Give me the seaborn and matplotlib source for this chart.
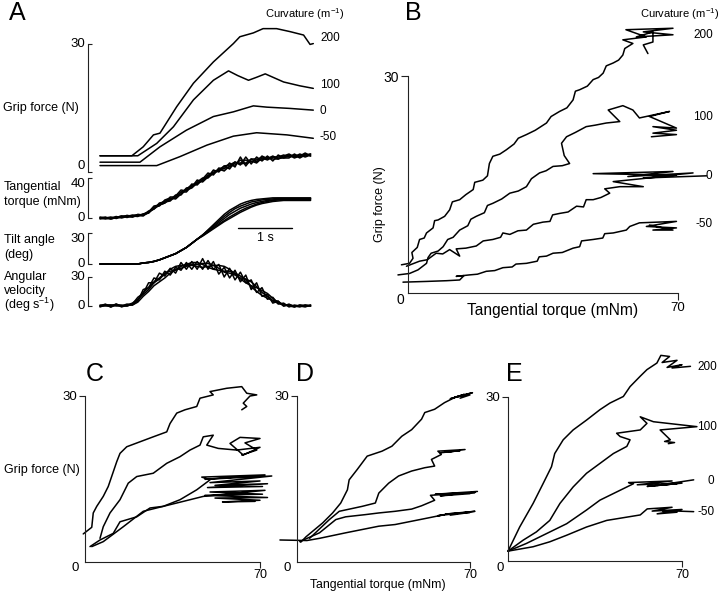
import numpy as np
import pandas as pd
import matplotlib
matplotlib.use('Agg')
import matplotlib.pyplot as plt
import seaborn as sns

# ---------------- data ----------------
curvatures = [200, 100, 0, -50]

# Panel A: grip force (N) vs time (s)
gripA_t = {
    200: [0, 0.59, 0.80, 0.99, 1.11, 1.42, 1.73, 2.10, 2.47, 2.59, 2.84, 3.02, 3.27, 3.52, 3.77, 3.89, 3.95],
    100: [0, 0.70, 1.05, 1.36, 1.73, 2.10, 2.38, 2.55, 2.75, 2.90, 3.06, 3.40, 3.70, 3.95],
    0:   [0, 0.74, 1.11, 1.60, 2.10, 2.47, 2.84, 3.09, 3.52, 3.95],
    -50: [0, 1.05, 1.48, 1.98, 2.47, 2.90, 3.46, 3.95],
}
gripA_v = {
    200: [3.8, 3.8, 5.9, 8.7, 9.1, 15.3, 20.8, 25.8, 30.1, 31.7, 32.6, 33.6, 33.6, 32.9, 32.1, 29.9, 30.1],
    100: [3.8, 3.8, 6.7, 10.6, 16.9, 21.5, 23.7, 22.6, 21.5, 22.2, 23.0, 21.1, 20.2, 19.6],
    0:   [2.3, 2.3, 5.9, 9.8, 13.0, 14.1, 15.5, 15.2, 14.9, 14.5],
    -50: [1.5, 1.5, 3.6, 6.3, 8.4, 9.2, 8.7, 7.9],
}

# Panel A: common time base (s) for the five trials of torque / tilt / angular velocity
trial_t = [0.0, 0.1, 0.2, 0.3, 0.4, 0.5, 0.6, 0.7, 0.8, 0.9, 1.0, 1.1, 1.2, 1.3, 1.4, 1.5, 1.6, 1.7, 1.8, 1.9,
           2.0, 2.1, 2.2, 2.3, 2.4, 2.5, 2.6, 2.7, 2.8, 2.9, 3.0, 3.1, 3.2, 3.3, 3.4, 3.5, 3.6, 3.7, 3.8, 3.9]

torque_trials = [
    [0, 1, -1, 0.5, 2, 1.5, 1, 3.5, 3, 7, 9, 15, 16, 17, 22, 28, 27, 34, 33, 39, 45, 43, 50, 49, 55, 51, 61, 52, 59, 56, 62, 59, 62, 59, 62, 64, 61, 64, 62, 64],
    [1, 0, 1, -0.5, 1, 2.5, 2, 1.5, 4, 5, 11, 12, 18, 20, 19, 24, 30, 31, 38, 36, 41, 48, 46, 52, 49, 56, 53, 61, 54, 61, 57, 62, 57, 63, 60, 60, 64, 61, 64, 62],
    [0, -1, 0, 1.5, 0, 1.5, 3, 2.5, 2, 6, 12, 13, 15, 21, 21, 26, 26, 32, 36, 40, 40, 45, 49, 47, 52, 53, 58, 54, 57, 55, 60, 58, 61, 61, 63, 61, 62, 63, 61, 63],
    [-1, 0, 0, 0.5, 2, 0.5, 2, 3.5, 3, 5, 10, 14, 17, 18, 23, 23, 29, 33, 34, 38, 43, 44, 48, 52, 53, 56, 54, 55, 59, 59, 58, 61, 59, 59, 61, 63, 60, 62, 65, 62],
    [0, 0, -1, 0.5, 1, 2.5, 1, 2.5, 4, 6, 9, 13, 15, 19, 20, 26, 28, 30, 35, 37, 42, 46, 47, 50, 51, 55, 55, 58, 56, 58, 61, 60, 61, 60, 60, 62, 63, 60, 63, 64],
]

tilt_trials = [
    [0, 0, 0, 0, 0, 0, 0, 0, 1, 1.5, 2.5, 4, 6, 8, 10, 13, 16, 20, 24, 28, 33, 38, 43, 48, 52, 55, 58, 60, 61.5, 62.5, 63, 63.5, 64, 64, 64, 64, 64, 64, 64, 64],
    [0, 0, 0, 0, 0, 0, 0, 0, 1, 1.5, 2.5, 4, 6, 8, 10, 13, 16, 20, 24, 28, 32, 36, 40, 44, 48, 51, 54, 56, 58, 59.5, 60.5, 61.5, 62, 62.5, 63, 63, 63, 63, 63, 63],
    [0, 0, 0, 0, 0, 0, 0, 0, 1, 1.5, 2.5, 4, 6, 8, 10, 13, 16, 20, 24, 27.5, 31, 35, 38.5, 42, 45.5, 48.5, 51.5, 54, 56, 58, 59.5, 60.5, 61.5, 62, 62.5, 62.5, 62.5, 62.5, 62.5, 62.5],
    [0, 0, 0, 0, 0, 0, 0, 0, 1, 1.5, 2.5, 4, 6, 8, 10, 13, 16, 20, 24, 27, 30.5, 34, 37.5, 41, 44, 47, 50, 52.5, 55, 57, 58.5, 59.5, 60.5, 61, 61.5, 61.5, 61.5, 61.5, 61.5, 61.5],
    [0, 0, 0, 0, 0, 0, 0, 0, 1, 1.5, 2.5, 4, 6, 8, 10, 13, 16, 20, 24, 28, 32.5, 37, 41.5, 46, 50, 53.5, 56, 58, 60, 61, 62, 62.5, 63, 63.5, 63.5, 63.5, 63.5, 63.5, 63.5, 63.5],
]

angvel_trials = [
    [0, 2, -1, 1, 1, 0, 2, 9, 13, 24, 24, 34, 31, 39, 34, 45, 38, 46, 38, 49, 38, 46, 33, 40, 29, 37, 25, 32, 17, 24, 10, 12, 3, 5, 0, 2, -1, 1, 0, 1],
    [1, 1, 1, 0, 0, 2, 1, 5, 17, 19, 29, 27, 36, 32, 40, 37, 45, 38, 46, 38, 47, 38, 43, 30, 39, 27, 35, 24, 27, 14, 19, 7, 9, 2, 3, -1, 1, 0, 1, 0],
    [0, 0, 0, 2, -1, 1, 3, 7, 12, 17, 24, 28, 33, 38, 41, 42, 42, 42, 41, 40, 41, 42, 42, 41, 38, 33, 28, 24, 21, 19, 16, 13, 8, 3, 2, 0, -1, 1, 0, 0],
    [-1, 1, 1, 1, 0, 0, 2, 6, 14, 19, 25, 29, 34, 36, 37, 41, 43, 45, 45, 43, 40, 38, 37, 36, 36, 34, 31, 27, 20, 15, 11, 8, 6, 5, 0, 1, 0, -1, 1, 0],
    [0, 1, -1, 2, 0, 1, 1, 4, 10, 15, 21, 25, 29, 34, 38, 39, 41, 43, 43, 44, 44, 42, 39, 35, 34, 32, 29, 28, 25, 20, 14, 10, 5, 3, 1, 1, 0, 0, -1, 1],
]

# Panels B-E: grip force (N) vs tangential torque (mNm)
B_x = {
    200: [-1.7, 0.4, 1.3, 1.0, 2.4, 3.0, 4.2, 4.8, 6.5, 6.9, 7.8, 9.5, 10.8, 11.5, 13.4, 15.0, 16.9, 17.3, 19.4, 20.6,
          21.1, 22.0, 23.8, 25.5, 27.5, 28.6, 30.7, 33.0, 35.9, 37.1, 39.3, 41.2, 42.8, 43.4, 44.5, 46.5, 48.0, 49.4,
          50.6, 51.4, 53.2, 54.6, 55.7, 56.2, 58.3,
          55.7, 61.8, 56.5, 68.7, 61.0, 68.7, 59.2, 63.5, 63.5, 61.0, 62.2],
    100: [-2.6, 0.4, 2.6, 4.8, 5.2, 6.0, 7.8, 9.1, 10.3, 11.7, 13.4, 15.5, 16.3, 17.7, 19.8, 20.6, 22.0, 24.3, 26.4,
          28.6, 30.7, 32.0, 34.1, 35.8, 37.6, 40.0, 41.9, 40.5, 39.8, 41.1, 43.4, 46.2, 48.5, 51.4, 54.9, 51.9, 55.7, 58.3,
          60.0, 67.8, 62.6, 69.6, 63.5, 69.6, 63.5, 69.6, 63.1],
    0:   [-0.4, 3.0, 5.0, 7.3, 9.0, 10.8, 13.4, 12.5, 15.0, 17.7, 19.5, 22.0, 24.0, 24.6, 26.4, 28.5, 30.7, 32.5, 35.0,
          36.8, 37.5, 39.3, 41.5, 43.7, 45.5, 46.2, 48.0, 50.0, 52.3, 51.0, 54.9, 61.0,
          53.2, 69.6, 48.0, 68.7, 57.0, 73.9, 61.0, 77.4],
    -50: [-1.3, 4.8, 10.0, 13.4, 14.5, 12.5, 15.9, 18.0, 20.3, 22.5, 24.6, 27.0, 28.0, 30.7, 33.5, 34.0, 35.9, 37.6,
          40.0, 42.8, 44.5, 45.0, 48.0, 50.5, 51.0, 53.2, 56.6, 57.5,
          60.0, 69.6, 61.8, 69.6, 63.5, 68.7, 62.6],
}
B_y = {
    200: [3.9, 4.1, 4.8, 5.6, 6.3, 7.4, 7.6, 8.3, 9.0, 10.0, 10.1, 10.6, 11.5, 12.6, 12.9, 13.6, 14.3, 15.3, 15.6, 16.2,
          17.9, 18.9, 19.2, 19.8, 20.6, 21.4, 21.9, 22.5, 23.5, 24.4, 25.1, 25.6, 26.7, 27.9, 28.1, 28.6, 29.5, 29.8,
          30.4, 31.4, 31.8, 32.2, 32.9, 33.8, 34.5,
          35.0, 35.4, 36.4, 36.6, 36.1, 35.7, 35.4, 36.1, 34.7, 34.3, 33.1],
    100: [2.5, 2.7, 3.2, 4.1, 4.9, 5.5, 5.8, 6.4, 7.4, 7.7, 8.7, 9.3, 10.2, 10.6, 11.1, 12.1, 12.4, 13.0, 13.8,
          14.1, 14.7, 15.8, 16.6, 16.9, 17.5, 17.6, 17.9, 19.0, 20.7, 21.6, 22.2, 23.0, 23.2, 23.5, 23.7, 25.3, 25.9, 25.3,
          24.2, 25.1, 24.4, 22.8, 23.0, 22.5, 22.1, 21.9, 21.6],
    0:   [3.7, 4.4, 4.6, 5.5, 5.4, 6.0, 5.1, 6.1, 6.2, 6.5, 7.2, 7.4, 7.7, 8.3, 8.1, 8.6, 8.7, 9.5, 9.8,
          9.9, 10.8, 11.0, 11.2, 12.0, 11.9, 12.9, 12.9, 13.2, 13.8, 14.4, 14.7, 14.7,
          15.4, 16.3, 16.5, 16.8, 16.1, 16.6, 15.9, 16.2],
    -50: [1.5, 1.6, 1.7, 1.8, 2.4, 2.3, 2.5, 2.6, 3.0, 3.1, 3.5, 3.6, 4.0, 4.1, 4.4, 5.0, 5.1, 5.5,
          5.6, 6.2, 6.4, 7.2, 7.4, 7.6, 8.2, 8.3, 8.7, 9.2,
          9.7, 9.9, 9.2, 9.0, 8.7, 8.7, 9.4],
}

C_x = {
    200: [-0.7, 2.7, 3.3, 4.7, 7.3, 9.3, 12.7, 14.0, 16.7, 22.0, 27.3, 32.7, 34.0, 36.7, 40.0, 44.7, 46.0, 51.3,
          50.0, 56.7, 62.7, 64.7, 68.7, 66.0, 63.3, 64.7, 62.7],
    100: [6.0, 7.3, 10.0, 14.0, 17.3, 20.7, 27.3, 32.7, 38.0, 42.0, 46.0, 47.3, 51.3,
          48.7, 53.3, 60.7, 70.0, 63.3, 58.0, 62.0, 70.0, 64.0, 68.7, 62.7],
    0:   [2.0, 6.0, 11.3, 14.0, 20.7, 26.0, 31.3, 38.0, 44.7, 50.0,
          46.7, 72.0, 48.0, 74.7, 50.0, 70.0, 52.0, 73.0, 49.0, 71.0],
    -50: [2.7, 7.3, 15.3, 23.3, 34.0, 42.0, 47.3,
          72.0, 50.0, 71.0, 48.0, 73.0, 52.0, 70.0, 55.0, 68.0],
}
C_y = {
    200: [5.0, 6.2, 8.8, 10.0, 11.8, 13.6, 18.1, 19.6, 20.8, 21.7, 22.6, 23.5, 25.0, 26.9, 27.5, 28.1, 29.6, 30.2,
          30.8, 31.4, 31.7, 30.5, 30.2, 30.0, 28.7, 28.1, 27.5],
    100: [4.2, 6.3, 8.8, 11.2, 14.2, 15.4, 16.0, 17.8, 19.0, 20.2, 21.1, 22.6, 22.9,
          21.1, 20.5, 20.2, 20.7, 19.3, 21.4, 22.5, 22.3, 21.5, 20.2, 19.3],
    0:   [2.7, 3.9, 5.1, 7.2, 8.1, 9.7, 10.0, 11.2, 13.0, 14.8,
          15.3, 15.7, 14.9, 15.5, 14.3, 14.6, 13.8, 14.1, 13.4, 13.6],
    -50: [2.7, 3.6, 6.3, 9.1, 10.3, 11.2, 11.8,
          12.9, 12.6, 12.2, 12.0, 11.6, 11.5, 11.1, 10.8, 10.9],
}

D_x = {
    200: [1.5, 3.7, 10.4, 14.4, 17.7, 20.4, 21.1, 24.4, 28.4, 34.4, 38.4, 42.4, 46.4, 50.4, 51.7, 55.7, 59.7, 63.7, 67.7,
          62.0, 71.0, 64.0, 70.0, 66.0],
    100: [5.1, 13.1, 17.1, 26.4, 31.7, 33.1, 37.1, 41.1, 46.4, 51.7, 55.7, 54.4, 58.4,
          57.0, 68.0, 60.0, 66.0, 58.0],
    0:   [1.1, 9.1, 15.7, 19.7, 27.7, 33.1, 39.7, 46.4, 50.4, 55.7,
          54.0, 72.0, 56.0, 73.0, 58.0, 70.0],
    -50: [-6.9, 4.0, 9.1, 19.7, 26.4, 33.1, 39.7, 46.4, 53.1, 59.7,
          57.0, 72.0, 60.0, 70.0, 62.0],
}
D_y = {
    200: [3.5, 4.5, 7.0, 8.8, 10.6, 13.0, 14.8, 16.7, 19.1, 20.0, 20.9, 22.7, 23.9, 25.8, 27.0, 27.6, 28.8, 29.7, 30.3,
          29.5, 30.6, 29.8, 30.2, 29.6],
    100: [4.2, 7.6, 9.1, 10.0, 10.6, 12.4, 14.2, 15.5, 16.4, 17.0, 17.3, 18.5, 19.4,
          20.0, 20.3, 19.8, 20.1, 19.7],
    0:   [3.6, 5.2, 7.6, 8.1, 8.5, 8.8, 9.1, 9.5, 10.1, 11.1,
          12.0, 12.5, 12.2, 12.7, 11.9, 12.3],
    -50: [3.9, 3.8, 4.2, 5.2, 5.8, 6.4, 6.7, 7.3, 7.9, 8.5,
          8.3, 9.1, 8.6, 8.9, 8.4],
}

E_x = {
    200: [0, 4.7, 10.1, 14.1, 17.5, 18.8, 22.2, 26.2, 31.6, 37.0, 41.0, 46.4, 49.1, 53.2, 55.9, 59.9,
          61.5, 65.0, 62.0, 68.0, 64.0, 70.0, 66.0, 73.4],
    100: [0, 6.1, 11.4, 16.8, 20.9, 26.2, 31.6, 37.0, 42.4, 47.8, 49.1, 45.1, 43.7, 53.2, 55.9, 53.2, 58.5, 76.0,
          61.2, 65.3, 63.0, 67.0, 64.5],
    0:   [0, 7.4, 12.8, 23.6, 31.6, 37.0, 45.1, 50.5,
          48.5, 66.0, 52.0, 70.0, 56.0, 68.0, 60.0, 74.7],
    -50: [0, 10.1, 16.8, 23.6, 31.6, 39.7, 47.8, 53.2,
          56.0, 66.0, 58.0, 70.0, 60.0, 68.0, 62.0, 74.7],
}
E_y = {
    200: [1.8, 6.2, 10.5, 14.1, 17.2, 19.6, 22.1, 23.9, 25.7, 27.6, 28.8, 30.0, 31.8, 33.7, 34.9, 36.1,
          37.5, 37.3, 36.2, 36.6, 35.3, 35.8, 35.2, 35.5],
    100: [1.8, 3.8, 5.3, 7.4, 10.5, 13.5, 16.0, 17.8, 19.6, 20.9, 22.1, 22.7, 23.3, 23.9, 25.1, 26.3, 25.4, 24.5,
          23.9, 22.1, 21.8, 21.6, 21.4],
    0:   [1.8, 3.2, 4.4, 6.8, 9.3, 11.1, 12.9, 14.1,
          14.3, 14.6, 13.9, 14.2, 13.6, 14.1, 13.8, 14.8],
    -50: [1.8, 2.6, 3.5, 4.7, 6.2, 7.4, 8.0, 8.4,
          9.5, 9.8, 9.1, 9.4, 8.6, 8.9, 9.2, 9.0],
}

# ---------------- style ----------------
sns.set_theme(style='white')
FONT = ['Liberation Sans', 'DejaVu Sans']
plt.rcParams['font.family'] = FONT
plt.rcParams['mathtext.default'] = 'regular'

W, H = 720, 597
fig = plt.figure(figsize=(7.2, 5.97), dpi=100)
fig.patch.set_facecolor('white')

LW = 1.1
SPINE = '#222222'


def add_ax(x0, ytop, x1, ybot):
    ax = fig.add_axes([x0 / W, 1 - ybot / H, (x1 - x0) / W, (ybot - ytop) / H])
    ax.patch.set_alpha(0)
    return ax


def txt(x, y, s, size=9, ha='left', va='center', **kw):
    fig.text(x / W, 1 - y / H, s, fontsize=size, ha=ha, va=va, color='black', **kw)


def draw(ax, xs, ys):
    df = pd.DataFrame({'x': xs, 'y': ys})
    sns.lineplot(data=df, x='x', y='y', sort=False, estimator=None, color='black',
                 linewidth=LW, ax=ax, legend=False)


def unclip(ax):
    for ln in ax.lines:
        ln.set_clip_on(False)


def style_A(ax, top, va_low='center', va_top='center'):
    ax.set_xlim(-12 / 54, 213 / 54)
    ax.set_ylim(0, top)
    for s in ['top', 'right', 'bottom']:
        ax.spines[s].set_visible(False)
    ax.spines['left'].set_linewidth(0.8)
    ax.spines['left'].set_color(SPINE)
    ax.set_yticks([0, top])
    ax.set_xticks([])
    ax.tick_params(axis='y', direction='in', length=3, width=0.8, pad=2, labelsize=9.5,
                   left=True, colors=SPINE, labelcolor='black')
    labels = ax.get_yticklabels()
    labels[0].set_va(va_low)
    labels[1].set_va(va_top)
    ax.set_xlabel('')
    ax.set_ylabel('')
    unclip(ax)


def style_xy(ax, ticklen, ylabelsize, xlabelsize):
    ax.set_xlim(0, 70)
    ax.set_ylim(0, 30)
    for s in ['top', 'right']:
        ax.spines[s].set_visible(False)
    for s in ['left', 'bottom']:
        ax.spines[s].set_linewidth(0.8)
        ax.spines[s].set_color(SPINE)
    ax.set_yticks([30])
    ax.set_xticks([70])
    ax.tick_params(direction='out', length=ticklen, width=0.8, pad=1.5,
                   left=True, bottom=True, colors=SPINE, labelcolor='black')
    ax.tick_params(axis='y', labelsize=ylabelsize)
    ax.tick_params(axis='x', labelsize=xlabelsize)
    ax.set_xlabel('')
    ax.set_ylabel('')
    unclip(ax)


# ---------------- Panel A ----------------
axg = add_ax(88, 44, 313, 172)
for c in curvatures:
    draw(axg, gripA_t[c], gripA_v[c])
style_A(axg, 30, va_low='bottom')

axt = add_ax(88, 178, 313, 218)
for tr in torque_trials:
    draw(axt, trial_t, tr)
style_A(axt, 40, va_top='top')

axa = add_ax(88, 233, 313, 264)
for tr in tilt_trials:
    draw(axa, trial_t, tr)
style_A(axa, 30, va_top='top')
# 1 s scale bar
axa.plot([2.556, 3.556], [34.8, 34.8], color='black', lw=1.0, clip_on=False)

axv = add_ax(88, 277, 313, 306)
for tr in angvel_trials:
    draw(axv, trial_t, tr)
style_A(axv, 30)

txt(17, 13, 'A', size=18, ha='center')
txt(265, 14, 'Curvature (m$^{-1}$)', size=8)
txt(320, 38, '200', size=8.5)
txt(320, 85, '100', size=8.5)
txt(320, 111, '0', size=8.5)
txt(319, 137, '-50', size=8.5)
txt(265, 238, '1 s', size=9, ha='center')
txt(3, 108, 'Grip force (N)', size=9)
txt(4, 187, 'Tangential', size=9)
txt(4, 202, 'torque (mNm)', size=9)
txt(4, 240, 'Tilt angle', size=9)
txt(4, 255, '(deg)', size=9)
txt(4, 277, 'Angular', size=9)
txt(4, 291, 'velocity', size=9)
txt(4, 305, '(deg s$^{-1}$)', size=9)

# ---------------- Panel B ----------------
axB = add_ax(408, 76, 678, 293)
for c in curvatures:
    draw(axB, B_x[c], B_y[c])
style_xy(axB, 5, 10, 9.5)
txt(413, 13, 'B', size=18, ha='center')
txt(719, 14, 'Curvature (m$^{-1}$)', size=8, ha='right')
txt(693, 35, '200', size=8.5)
txt(693, 117, '100', size=8.5)
txt(706, 176, '0', size=8.5)
txt(695, 224, '-50', size=8.5)
txt(400, 300, '0', size=10, ha='center')
txt(380, 204, 'Grip force (N)', size=9, ha='center', rotation=90)
txt(553, 310, 'Tangential torque (mNm)', size=11.2, ha='center')

# ---------------- Panel C ----------------
axC = add_ax(85, 396, 260, 561.5)
for c in curvatures:
    draw(axC, C_x[c], C_y[c])
style_xy(axC, 4, 9.5, 9)
txt(95, 374, 'C', size=18, ha='center')
txt(75, 568, '0', size=9.5, ha='center')
txt(4, 470, 'Grip force (N)', size=9)

# ---------------- Panel D ----------------
axD = add_ax(297, 396, 470, 561.5)
for c in curvatures:
    draw(axD, D_x[c], D_y[c])
style_xy(axD, 4, 9.5, 9)
txt(305, 374, 'D', size=18, ha='center')
txt(287, 568, '0', size=9.5, ha='center')
txt(378, 585, 'Tangential torque (mNm)', size=8.8, ha='center')

# ---------------- Panel E ----------------
axE = add_ax(508, 396.5, 682, 561)
for c in curvatures:
    draw(axE, E_x[c], E_y[c])
style_xy(axE, 4, 9.5, 9)
txt(514, 374, 'E', size=18, ha='center')
txt(500, 568, '0', size=9.5, ha='center')
txt(697, 367, '200', size=8.5)
txt(697, 427, '100', size=8.5)
txt(708, 481, '0', size=8.5)
txt(697, 512, '-50', size=8.5)

fig.savefig('out.png', dpi=100, facecolor='white')
